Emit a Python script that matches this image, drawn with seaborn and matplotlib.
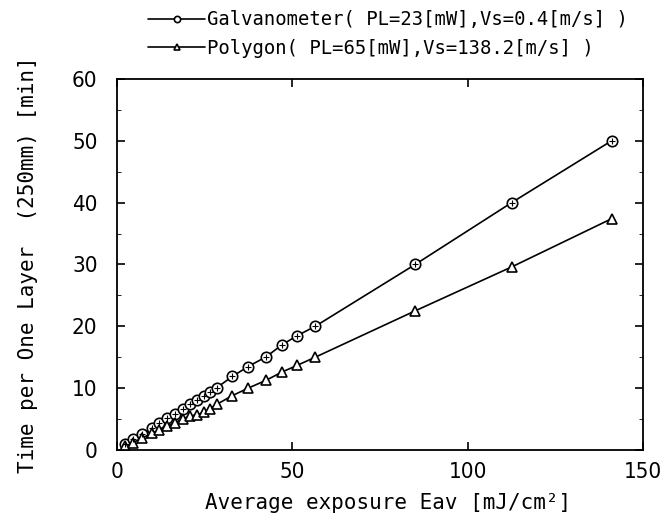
import numpy as np
import pandas as pd
import matplotlib
matplotlib.use("Agg")
import matplotlib.pyplot as plt
import seaborn as sns

# exposure values (shared by both scanners)
eav = [2.4, 4.6, 7.0, 10.0, 12.0, 14.2, 16.4, 18.7, 20.8, 22.9, 24.7, 26.5,
       28.5, 32.9, 37.4, 42.6, 47.0, 51.4, 56.5, 85.0, 112.5, 141.0]
# time per one layer [min]
galvo = [0.9, 1.7, 2.6, 3.6, 4.3, 5.1, 5.8, 6.7, 7.4, 8.1, 8.8, 9.4,
         10.1, 11.9, 13.5, 15.1, 17.0, 18.5, 20.0, 30.0, 40.0, 50.0]
polygon = [0.6, 1.2, 1.9, 2.7, 3.2, 3.8, 4.4, 5.0, 5.5, 5.7, 6.1, 6.7,
           7.4, 8.8, 10.0, 11.3, 12.6, 13.7, 15.0, 22.5, 29.6, 37.4]

galvo_label = "Galvanometer( PL=23[mW],Vs=0.4[m/s] )"
poly_label = "Polygon( PL=65[mW],Vs=138.2[m/s] )"

df_g = pd.DataFrame({"Eav": eav, "Time": galvo})
df_p = pd.DataFrame({"Eav": eav, "Time": polygon})

sns.set_style("ticks")
plt.rcParams["font.family"] = ["DejaVu Sans"]
plt.rcParams["font.stretch"] = "condensed"
plt.rcParams["font.size"] = 15
for k in ["text.color", "axes.labelcolor", "xtick.color", "ytick.color",
          "axes.edgecolor"]:
    plt.rcParams[k] = "black"

mono = {"family": "DejaVu Sans Mono", "size": 15}

fig = plt.figure(figsize=(6.63, 5.26), dpi=100)
ax = fig.add_axes([0.1765, 0.1445, 0.7935, 0.7053])

sns.lineplot(data=df_g, x="Eav", y="Time", ax=ax, color="black", lw=1.2,
             marker="o", markersize=7.5, markerfacecolor="white",
             markeredgecolor="black", markeredgewidth=1.2, label=galvo_label)
sns.lineplot(data=df_p, x="Eav", y="Time", ax=ax, color="black", lw=1.2,
             marker="^", markersize=7.5, markerfacecolor="white",
             markeredgecolor="black", markeredgewidth=1.2, label=poly_label)
# small cross inside the circles
ax.plot(eav, galvo, ls="none", marker="+", ms=4, mew=0.8, color="black")

ax.set_xlim(0, 150)
ax.set_ylim(0, 60)
ax.set_xticks([0, 50, 100, 150])
ax.set_yticks(range(0, 61, 10))
ax.set_yticks(range(5, 60, 10), minor=True)
ax.tick_params(direction="in", top=True, right=True, length=6, width=1.2,
               labelsize=16)
ax.tick_params(axis="y", pad=14)
ax.tick_params(axis="x", pad=9)
ax.tick_params(which="minor", direction="in", right=True, left=True, length=3)
for s in ax.spines.values():
    s.set_linewidth(1.3)

ax.set_xlabel("Average exposure Eav [mJ/cm²]", fontdict=mono)
ax.set_ylabel("Time per One Layer  (250mm) [min]", fontdict=mono)
ax.xaxis.set_label_coords(0.515, -0.115)
ax.yaxis.set_label_coords(-0.15, 0.5)

leg = ax.legend(loc="lower left", bbox_to_anchor=(0.045, 1.037), frameon=False,
                prop={"family": "DejaVu Sans Mono", "size": 13.6},
                handlelength=3.0, handletextpad=0.1,
                labelspacing=0.5, borderaxespad=0, markerscale=0.6)

fig.savefig("out.png", dpi=100)
